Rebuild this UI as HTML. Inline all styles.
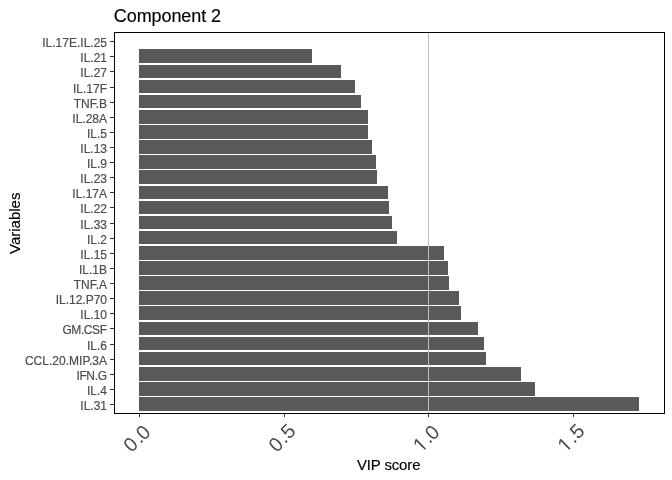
<!DOCTYPE html>
<html><head><meta charset="utf-8"><title>Component 2</title>
<style>
html,body{margin:0;padding:0;background:#fff;}
body{width:672px;height:480px;overflow:hidden;}
svg{display:block;}
text{font-family:"Liberation Sans",Arial,sans-serif;}
.yl{font-size:12px;fill:#4d4d4d;text-anchor:end;stroke:#4d4d4d;stroke-width:0.2px;}
.xl{font-size:20px;fill:#4d4d4d;text-anchor:start;}
.at{font-size:15px;fill:#000;text-anchor:middle;stroke:#000;stroke-width:0.15px;}
.tt{font-size:18px;fill:#000;stroke:#000;stroke-width:0.15px;}
</style></head><body>
<svg width="672" height="480" viewBox="0 0 672 480">
<rect x="0" y="0" width="672" height="480" fill="#ffffff"/>
<g shape-rendering="crispEdges" fill="#595959">
<rect x="139" y="49" width="173" height="14"/>
<rect x="139" y="65" width="202" height="13"/>
<rect x="139" y="80" width="216" height="13"/>
<rect x="139" y="95" width="222" height="13"/>
<rect x="139" y="110" width="229" height="14"/>
<rect x="139" y="125" width="229" height="14"/>
<rect x="139" y="140" width="233" height="14"/>
<rect x="139" y="155" width="237" height="14"/>
<rect x="139" y="170" width="238" height="14"/>
<rect x="139" y="186" width="249" height="13"/>
<rect x="139" y="201" width="250" height="13"/>
<rect x="139" y="216" width="253" height="13"/>
<rect x="139" y="231" width="258" height="13"/>
<rect x="139" y="246" width="305" height="14"/>
<rect x="139" y="261" width="309" height="14"/>
<rect x="139" y="276" width="310" height="14"/>
<rect x="139" y="291" width="320" height="14"/>
<rect x="139" y="306" width="322" height="14"/>
<rect x="139" y="322" width="339" height="13"/>
<rect x="139" y="337" width="345" height="13"/>
<rect x="139" y="352" width="347" height="13"/>
<rect x="139" y="367" width="382" height="14"/>
<rect x="139" y="382" width="396" height="14"/>
<rect x="139" y="397" width="500" height="14"/>
</g>
<g shape-rendering="crispEdges">
<rect x="428" y="33" width="1" height="380" fill="#bebebe"/>
<rect x="114.5" y="32.5" width="550" height="381" fill="none" stroke="#000" stroke-width="1"/>
<rect x="110" y="41" width="4" height="1" fill="#333"/>
<rect x="110" y="56" width="4" height="1" fill="#333"/>
<rect x="110" y="71" width="4" height="1" fill="#333"/>
<rect x="110" y="87" width="4" height="1" fill="#333"/>
<rect x="110" y="102" width="4" height="1" fill="#333"/>
<rect x="110" y="117" width="4" height="1" fill="#333"/>
<rect x="110" y="132" width="4" height="1" fill="#333"/>
<rect x="110" y="147" width="4" height="1" fill="#333"/>
<rect x="110" y="162" width="4" height="1" fill="#333"/>
<rect x="110" y="177" width="4" height="1" fill="#333"/>
<rect x="110" y="192" width="4" height="1" fill="#333"/>
<rect x="110" y="207" width="4" height="1" fill="#333"/>
<rect x="110" y="223" width="4" height="1" fill="#333"/>
<rect x="110" y="238" width="4" height="1" fill="#333"/>
<rect x="110" y="253" width="4" height="1" fill="#333"/>
<rect x="110" y="268" width="4" height="1" fill="#333"/>
<rect x="110" y="283" width="4" height="1" fill="#333"/>
<rect x="110" y="298" width="4" height="1" fill="#333"/>
<rect x="110" y="313" width="4" height="1" fill="#333"/>
<rect x="110" y="328" width="4" height="1" fill="#333"/>
<rect x="110" y="344" width="4" height="1" fill="#333"/>
<rect x="110" y="359" width="4" height="1" fill="#333"/>
<rect x="110" y="374" width="4" height="1" fill="#333"/>
<rect x="110" y="389" width="4" height="1" fill="#333"/>
<rect x="110" y="404" width="4" height="1" fill="#333"/>
<rect x="139" y="414" width="1" height="3" fill="#333"/>
<rect x="284" y="414" width="1" height="3" fill="#333"/>
<rect x="428" y="414" width="1" height="3" fill="#333"/>
<rect x="573" y="414" width="1" height="3" fill="#333"/>
</g>
<text class="yl" x="107" y="47">IL.17E.IL.25</text>
<text class="yl" x="107" y="62">IL.21</text>
<text class="yl" x="107" y="77">IL.27</text>
<text class="yl" x="107" y="93">IL.17F</text>
<text class="yl" x="107" y="108">TNF.B</text>
<text class="yl" x="107" y="123">IL.28A</text>
<text class="yl" x="107" y="138">IL.5</text>
<text class="yl" x="107" y="153">IL.13</text>
<text class="yl" x="107" y="168">IL.9</text>
<text class="yl" x="107" y="183">IL.23</text>
<text class="yl" x="107" y="198">IL.17A</text>
<text class="yl" x="107" y="213">IL.22</text>
<text class="yl" x="107" y="229">IL.33</text>
<text class="yl" x="107" y="244">IL.2</text>
<text class="yl" x="107" y="259">IL.15</text>
<text class="yl" x="107" y="274">IL.1B</text>
<text class="yl" x="107" y="289">TNF.A</text>
<text class="yl" x="107" y="304">IL.12.P70</text>
<text class="yl" x="107" y="319">IL.10</text>
<text class="yl" x="107" y="334" textLength="44.6" lengthAdjust="spacing">GM.CSF</text>
<text class="yl" x="107" y="350">IL.6</text>
<text class="yl" x="107" y="365" textLength="82.1" lengthAdjust="spacing">CCL.20.MIP.3A</text>
<text class="yl" x="107" y="380" textLength="30.6" lengthAdjust="spacing">IFN.G</text>
<text class="yl" x="107" y="395">IL.4</text>
<text class="yl" x="107" y="410">IL.31</text>
<g transform="translate(132.24,453.36) rotate(-45)"><text class="xl" dx="-0.47 1.71 -1.04" dy="-0.47 -0.06 0.33">0.0</text>
</g>
<g transform="translate(276.74,453.36) rotate(-45)"><text class="xl" dx="0 1.24 0.17" dy="0 -0.53 -0.25">0.5</text>
</g>
<g transform="translate(421.24,453.36) rotate(-45)"><text class="xl" dx="0 1.24 -1.04" dy="0 -0.53 0.33">1.0</text>
<rect x="0.6" y="-2.1" width="4.43" height="3.2" fill="#fff"/><rect x="6.8" y="-2.1" width="4.2" height="3.2" fill="#fff"/>
</g>
<g transform="translate(565.74,453.36) rotate(-45)"><text class="xl" dx="0 1.24 0.17" dy="0 -0.53 -0.25">1.5</text>
<rect x="0.6" y="-2.1" width="4.43" height="3.2" fill="#fff"/><rect x="6.8" y="-2.1" width="4.2" height="3.2" fill="#fff"/>
</g>
<text class="tt" x="113.8" y="22" textLength="107.3" lengthAdjust="spacing">Component 2</text>
<text class="at" style="text-anchor:start" x="356.9" y="470" textLength="63.6" lengthAdjust="spacing">VIP score</text>
<text class="at" transform="translate(20,223.3) rotate(-90)">Variables</text>
</svg></body></html>
